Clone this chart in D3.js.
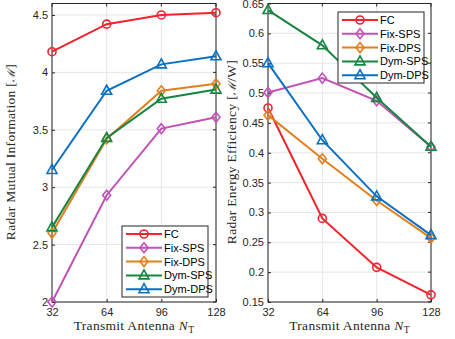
<!DOCTYPE html>
<html>
<head>
<meta charset="utf-8">
<script src="https://cdn.jsdelivr.net/npm/d3@7"></script>
<style>
  body { margin: 0; background: #fff; }
  text { font-family: "Liberation Sans", Arial, sans-serif; }
  .lab { font-family: "Liberation Serif", "DejaVu Serif", serif; }
</style>
</head>
<body>
<svg id="canvas" width="455" height="339"></svg>
<script>
const antennas = [32, 64, 96, 128];
const seriesNames = ["FC", "Fix-SPS", "Fix-DPS", "Dym-SPS", "Dym-DPS"];
const seriesColors = ["#F5222D", "#C152B6", "#E2801F", "#168540", "#0A70C2"];
const seriesMarkers = ["circle", "diamond", "diamond", "triangle", "triangle"];

// left: mutual information
const miFC = [4.18, 4.42, 4.50, 4.52];
const miFixSPS = [2.0, 2.93, 3.51, 3.61];
const miFixDPS = [2.60, 3.42, 3.84, 3.90];
const miDymSPS = [2.65, 3.43, 3.77, 3.85];
const miDymDPS = [3.15, 3.84, 4.07, 4.14];
const miTicks = [2, 2.5, 3, 3.5, 4, 4.5];

// right: energy efficiency
const eeFC = [0.475, 0.290, 0.208, 0.162];
const eeFixSPS = [0.501, 0.525, 0.487, 0.410];
const eeFixDPS = [0.463, 0.390, 0.320, 0.257];
const eeDymSPS = [0.639, 0.580, 0.492, 0.410];
const eeDymDPS = [0.550, 0.421, 0.327, 0.262];
const eeTicks = [0.15, 0.2, 0.25, 0.3, 0.35, 0.4, 0.45, 0.5, 0.55, 0.6, 0.65];

const svg = d3.select("#canvas");

const drawMarker = (g, type, x, y, color) => {
  if (type == "circle") {
    g.append("circle").attr("cx", x).attr("cy", y).attr("r", 4)
      .attr("fill", "none").attr("stroke", color).attr("stroke-width", 1.6);
  } else if (type == "diamond") {
    g.append("path").attr("d", `M${x},${y - 5}L${x + 4},${y}L${x},${y + 5}L${x - 4},${y}Z`)
      .attr("fill", "none").attr("stroke", color).attr("stroke-width", 1.6);
  } else {
    g.append("path").attr("d", `M${x},${y - 5.5}L${x + 5},${y + 3.5}L${x - 5},${y + 3.5}Z`)
      .attr("fill", "none").attr("stroke", color).attr("stroke-width", 1.6);
  }
};

const drawPanel = (opts) => {
  const x = d3.scaleLinear().domain([32, 128]).range([opts.x0, opts.x1]);
  const y = d3.scaleLinear().domain(opts.yDomain).range([302, 3.5]);
  const g = svg.append("g");

  // grid
  g.selectAll(".gx").data(antennas).enter().append("line")
    .attr("x1", d => x(d)).attr("x2", d => x(d)).attr("y1", y.range()[0]).attr("y2", y.range()[1])
    .attr("stroke", "#e6e6e6").attr("stroke-width", 1);
  g.selectAll(".gy").data(opts.ticks).enter().append("line")
    .attr("x1", opts.x0).attr("x2", opts.x1).attr("y1", d => y(d)).attr("y2", d => y(d))
    .attr("stroke", "#e6e6e6").attr("stroke-width", 1);

  // axes
  const ax = g.append("g").attr("transform", "translate(0,302)")
    .call(d3.axisBottom(x).tickValues(antennas).tickSize(-3).tickPadding(6));
  const ay = g.append("g").attr("transform", `translate(${opts.x0},0)`)
    .call(d3.axisLeft(y).tickValues(opts.ticks).tickSize(-3).tickPadding(4).tickFormat(d => String(d)));
  [ax, ay].forEach(a => {
    a.select(".domain").remove();
    a.selectAll("line").attr("stroke", "#262626");
    a.selectAll("text").attr("fill", "#262626").style("font-size", "11px");
  });
  // right/top ticks
  g.selectAll(".rt").data(opts.ticks).enter().append("line")
    .attr("x1", opts.x1).attr("x2", opts.x1 - 3).attr("y1", d => y(d)).attr("y2", d => y(d))
    .attr("stroke", "#262626");
  g.selectAll(".tt").data(antennas).enter().append("line")
    .attr("x1", d => x(d)).attr("x2", d => x(d)).attr("y1", 3.5).attr("y2", 6.5)
    .attr("stroke", "#262626");
  g.append("rect").attr("x", opts.x0).attr("y", 3.5).attr("width", opts.x1 - opts.x0)
    .attr("height", 302 - 3.5).attr("fill", "none").attr("stroke", "#262626").attr("stroke-width", 1);

  // series
  const line = d3.line().x((d, i) => x(antennas[i])).y(d => y(d));
  opts.series.forEach((s, k) => {
    g.append("path").datum(s).attr("d", line).attr("fill", "none")
      .attr("stroke", seriesColors[k]).attr("stroke-width", 2);
    s.forEach((v, i) => drawMarker(g, seriesMarkers[k], x(antennas[i]), y(v), seriesColors[k]));
  });

  // labels
  const xl = g.append("text").attr("class", "lab").attr("x", (opts.x0 + opts.x1) / 2).attr("y", 330)
    .attr("text-anchor", "middle").style("font-size", "13.5px").attr("fill", "#262626")
    .style("letter-spacing", "0.3px");
  xl.append("tspan").text("Transmit Antenna ");
  xl.append("tspan").attr("font-style", "italic").text("N");
  xl.append("tspan").attr("dy", 3).style("font-size", "9.5px").text("T");
  const yl = g.append("text").attr("class", "lab")
    .attr("transform", `translate(${opts.ylx},152) rotate(-90)`)
    .attr("text-anchor", "middle").style("font-size", "13.5px").attr("fill", "#262626")
    .style("letter-spacing", "0.3px");
  yl.append("tspan").text(opts.ylabel[0]);
  yl.append("tspan").style("font-family", "'DejaVu Serif', serif").style("font-size", "11px")
    .attr("font-style", "italic").text("ℳ");
  yl.append("tspan").text(opts.ylabel[1]);

  // legend
  const lg = g.append("g").attr("transform", `translate(${opts.lx},${opts.ly})`);
  lg.append("rect").attr("width", 86).attr("height", 71).attr("fill", "#fff")
    .attr("stroke", "#262626").attr("stroke-width", 1);
  seriesNames.forEach((n, k) => {
    const yy = 8 + k * 13.8;
    lg.append("line").attr("x1", 4).attr("x2", 40).attr("y1", yy).attr("y2", yy)
      .attr("stroke", seriesColors[k]).attr("stroke-width", 2);
    drawMarker(lg, seriesMarkers[k], 22, yy, seriesColors[k]);
    lg.append("text").attr("x", 42).attr("y", yy + 4).text(n)
      .style("font-size", "11px").attr("fill", "#000");
  });
};

drawPanel({
  x0: 52, x1: 216, yDomain: [2, 4.6], ticks: miTicks,
  series: [miFC, miFixSPS, miFixDPS, miDymSPS, miDymDPS],
  ylabel: ["Radar Mutual Information [", "]"], ylx: 15, lx: 122, ly: 226
});
drawPanel({
  x0: 268, x1: 431, yDomain: [0.15, 0.65], ticks: eeTicks,
  series: [eeFC, eeFixSPS, eeFixDPS, eeDymSPS, eeDymDPS],
  ylabel: ["Radar Energy Efficiency [", "/W]"], ylx: 236, lx: 338, ly: 12
});
</script>
</body>
</html>
